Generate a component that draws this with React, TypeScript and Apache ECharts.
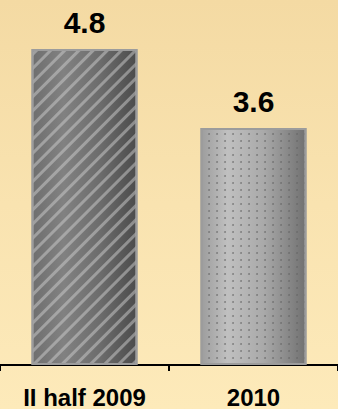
import React, { useEffect, useRef } from "react";
import * as echarts from "echarts";

const categories = ["II half 2009", "2010"];
const values = [4.8, 3.6];

const barColors = [
  {
    stops: [
      [0, "#6f6f6f"],
      [0.3, "#818181"],
      [0.65, "#6c6c6c"],
      [1, "#4c4c4c"],
    ],
    decal: {
      symbol: "rect",
      symbolSize: 1,
      dashArrayX: [1, 0],
      dashArrayY: [2.5, 7],
      rotation: -Math.PI / 4,
      color: "rgba(205,205,205,0.5)",
    },
  },
  {
    stops: [
      [0, "#9d9d9d"],
      [0.25, "#c0c0c0"],
      [0.6, "#a9a9a9"],
      [1, "#717171"],
    ],
    decal: {
      symbol: "circle",
      symbolSize: 0.9,
      dashArrayX: [2, 6],
      dashArrayY: [2, 5],
      rotation: 0,
      color: "rgba(100,100,100,0.7)",
    },
  },
];

export default function App() {
  const ref = useRef<HTMLDivElement>(null);
  useEffect(() => {
    const chart = echarts.init(ref.current!, null, { renderer: "svg" });
    const font = "'Liberation Sans', Arial, sans-serif";
    chart.setOption({
      animation: false,
      backgroundColor: {
        type: "linear",
        x: 0,
        y: 0,
        x2: 0,
        y2: 1,
        colorStops: [
          { offset: 0, color: "#f4daa3" },
          { offset: 0.5, color: "#f9e3b0" },
          { offset: 1, color: "#fdeaba" },
        ],
      },
      grid: { left: -4, right: -4, top: 3, bottom: 34 },
      xAxis: {
        type: "category",
        data: categories,
        axisLine: { show: true, lineStyle: { color: "#000", width: 2 } },
        axisTick: { show: true, length: 6, lineStyle: { color: "#000", width: 2 } },
        axisLabel: {
          color: "#000",
          fontSize: 24,
          fontWeight: "bold",
          fontFamily: font,
          margin: 20,
        },
      },
      yAxis: {
        type: "value",
        min: 0,
        max: 5.5,
        show: false,
        splitLine: { show: false },
      },
      series: [
        {
          type: "bar",
          barWidth: 106,
          data: values.map((v, i) => ({
            value: v,
            itemStyle: {
              color: {
                type: "linear",
                x: 0,
                y: 0,
                x2: 1,
                y2: 0,
                colorStops: barColors[i].stops.map(([o, c]) => ({ offset: o, color: c })),
              },
              borderColor: "#9c9c9c",
              borderWidth: 2,
              decal: barColors[i].decal,
            },
          })),
          label: {
            show: true,
            position: "top",
            distance: 12,
            color: "#000",
            fontSize: 30,
            fontWeight: "bold",
            fontFamily: font,
            formatter: (p: any) => p.value.toFixed(1),
          },
        },
      ],
    });
    return () => chart.dispose();
  }, []);
  return (
    <div
      ref={ref}
      style={{ position: "fixed", left: 0, top: 0, width: 338, height: 409 }}
    />
  );
}
